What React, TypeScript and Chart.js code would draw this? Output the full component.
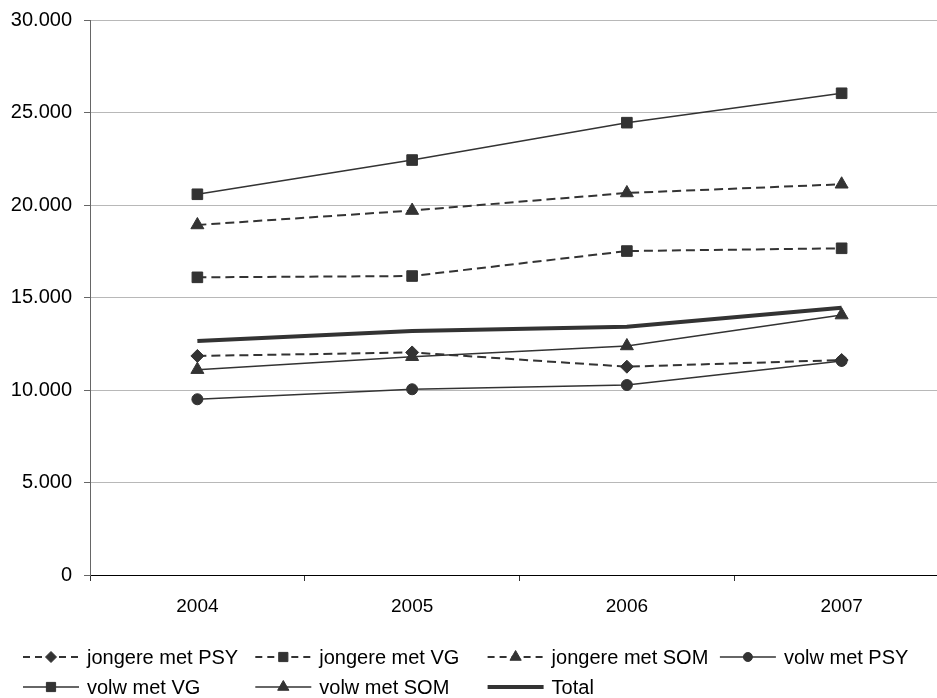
import React, { useEffect, useRef } from 'react';
import { Chart, registerables } from 'chart.js';
import { drawPoint } from 'chart.js/helpers';

Chart.register(...registerables);

const years = ['2004', '2005', '2006', '2007'];
const jongerePSY = [11840, 12030, 11260, 11620];
const jongereVG = [16090, 16160, 17510, 17660];
const jongereSOM = [18920, 19700, 20650, 21120];
const volwPSY = [9500, 10040, 10270, 11570];
const volwVG = [20580, 22430, 24450, 26040];
const volwSOM = [11100, 11800, 12380, 14050];
const total = [12650, 13190, 13420, 14450];

const seriesNames = [
  'jongere met PSY',
  'jongere met VG',
  'jongere met SOM',
  'volw met PSY',
  'volw met VG',
  'volw met SOM',
  'Total',
];

const yMin = 0;
const yMax = 30000;
const yStep = 5000;

const FONT = '"Liberation Sans", Arial, sans-serif';
const INK = '#333333';

function fmt(v: number): string {
  const s = Math.round(v).toString();
  return s.replace(/\B(?=(\d{3})+(?!\d))/g, '.');
}

export default function App() {
  const ref = useRef<HTMLCanvasElement>(null);

  useEffect(() => {
    const canvas = ref.current;
    if (!canvas) return;

    const mk = (label: string, data: number[], style: any, radius: number, dashed: boolean, width = 1.5) => ({
      label,
      data,
      borderColor: INK,
      backgroundColor: INK,
      pointBackgroundColor: INK,
      pointBorderColor: INK,
      pointStyle: style,
      pointRadius: radius,
      pointHoverRadius: radius,
      pointBorderWidth: 1,
      borderWidth: dashed ? 2 : width,
      borderDash: dashed ? [9, 5] : [],
      tension: 0,
      fill: false,
    });

    const datasets = [
      mk(seriesNames[0], jongerePSY, 'rectRot', 6.5, true),
      mk(seriesNames[1], jongereVG, 'rect', 7.5, true),
      mk(seriesNames[2], jongereSOM, 'triangle', 7.5, true),
      mk(seriesNames[3], volwPSY, 'circle', 5.5, false),
      mk(seriesNames[4], volwVG, 'rect', 7.5, false),
      mk(seriesNames[5], volwSOM, 'triangle', 7.5, false),
      mk(seriesNames[6], total, false, 0, false, 4),
    ];

    const legendPlugin = {
      id: 'xlLegend',
      afterDraw(chart: any) {
        const c = chart.ctx as CanvasRenderingContext2D;
        const x0 = 23;
        const colW = 232.3;
        const rows = [657, 687];
        const swatch = 56;
        const textGap = 64;
        chart.data.datasets.forEach((ds: any, i: number) => {
          const row = Math.floor(i / 4);
          const col = i % 4;
          const x = x0 + col * colW;
          const y = rows[row];
          c.save();
          c.strokeStyle = ds.borderColor;
          c.lineWidth = ds.borderWidth;
          c.setLineDash(ds.borderDash && ds.borderDash.length ? [7, 5] : []);
          c.beginPath();
          c.moveTo(x, y);
          c.lineTo(x + swatch, y);
          c.stroke();
          c.setLineDash([]);
          if (ds.pointRadius > 0) {
            c.fillStyle = ds.pointBackgroundColor;
            c.strokeStyle = ds.pointBorderColor;
            c.lineWidth = 1;
            drawPoint(c, { pointStyle: ds.pointStyle, radius: ds.pointRadius - 1, rotation: 0, borderWidth: 1 } as any, x + swatch / 2, y);
          }
          c.fillStyle = '#000';
          c.font = `20px ${FONT}`;
          c.textBaseline = 'middle';
          c.textAlign = 'left';
          c.fillText(ds.label, x + textGap, y + 1);
          c.restore();
        });
      },
    };

    const chart = new Chart(canvas, {
      type: 'line',
      data: { labels: years, datasets: datasets as any },
      options: {
        animation: false,
        responsive: false,
        maintainAspectRatio: false,
        devicePixelRatio: 1,
        layout: { padding: { left: 0, right: 11, top: 20, bottom: 0 } },
        plugins: {
          legend: { display: false },
          tooltip: { enabled: false },
        },
        scales: {
          x: {
            type: 'category',
            offset: true,
            grid: {
              display: true,
              offset: true,
              drawOnChartArea: false,
              drawTicks: true,
              tickLength: 6,
              tickColor: '#333',
            },
            border: { display: true, color: '#000', width: 1 },
            ticks: {
              color: '#000',
              font: { family: FONT, size: 19 },
              padding: 14,
              maxRotation: 0,
            },
            afterFit: (scale: any) => {
              scale.height = 123;
              scale.paddingLeft = 0;
              scale.paddingRight = 0;
            },
          },
          y: {
            min: yMin,
            max: yMax,
            ticks: {
              stepSize: yStep,
              color: '#000',
              font: { family: FONT, size: 20 },
              padding: 12,
              callback: (v: any) => fmt(Number(v)),
            },
            grid: {
              color: (ctx: any) => (ctx.tick && ctx.tick.value === 0 ? 'rgba(0,0,0,0)' : '#b8b8b8'),
              lineWidth: 1,
              drawTicks: true,
              tickLength: 6,
              tickColor: '#666',
            },
            border: { display: true, color: '#666', width: 1 },
            afterFit: (scale: any) => {
              scale.width = 90;
              scale.paddingTop = 0;
              scale.paddingBottom = 0;
            },
          },
        },
      },
      plugins: [legendPlugin],
    });

    return () => chart.destroy();
  }, []);

  return (
    <div
      style={{
        position: 'fixed',
        left: 0,
        top: 0,
        width: 937,
        height: 698,
        overflow: 'hidden',
        background: '#fff',
      }}
    >
      <canvas ref={ref} width={960} height={698} style={{ display: 'block', width: 960, height: 698 }} />
    </div>
  );
}
